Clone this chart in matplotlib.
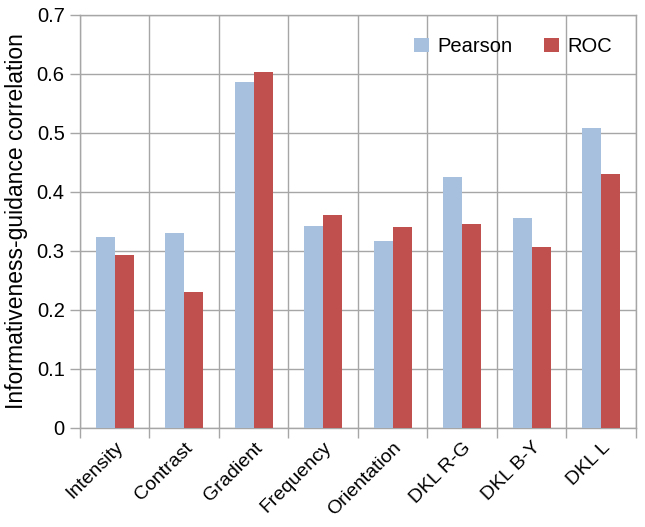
import numpy as np
import matplotlib.pyplot as plt

categories = ['Intensity', 'Contrast', 'Gradient', 'Frequency', 'Orientation',
              'DKL R-G', 'DKL B-Y', 'DKL L']
pearson = [0.324, 0.331, 0.586, 0.342, 0.317, 0.425, 0.356, 0.508]
roc = [0.293, 0.230, 0.603, 0.361, 0.340, 0.346, 0.307, 0.430]
yticks = [0, 0.1, 0.2, 0.3, 0.4, 0.5, 0.6, 0.7]
ytick_labels = ['0', '0.1', '0.2', '0.3', '0.4', '0.5', '0.6', '0.7']

plt.rcParams['font.family'] = ['Liberation Sans', 'DejaVu Sans']
grid_col = '#a6a6a6'

fig = plt.figure(figsize=(6.45, 5.27), dpi=100)
ax = fig.add_axes([0.124, 0.188, 0.862, 0.784])

x = np.arange(len(categories))
w = 0.275
ax.bar(x - w / 2, pearson, w, color='#a7c0de', label='Pearson', zorder=3)
ax.bar(x + w / 2, roc, w, color='#c0504d', label='ROC', zorder=3)

ax.set_xlim(-0.5, len(categories) - 0.5)
ax.set_ylim(0, 0.7)
ax.set_yticks(yticks)
ax.set_yticklabels(ytick_labels, fontsize=14.5)
ax.set_xticks(x)
ax.set_xticklabels(categories, rotation=45, ha='right', rotation_mode='anchor', fontsize=14)
ax.set_xticks(np.arange(-0.5, len(categories)), minor=True)

ax.grid(axis='y', color=grid_col, linewidth=1, zorder=0)
ax.grid(axis='x', which='minor', color=grid_col, linewidth=1, zorder=0)
ax.tick_params(axis='x', which='major', length=0, pad=8)
ax.tick_params(axis='x', which='minor', length=7, color=grid_col, width=1)
ax.tick_params(axis='y', length=7, color=grid_col, width=1, pad=4)
for s in ax.spines.values():
    s.set_color(grid_col)
    s.set_linewidth(1)

ax.set_ylabel('Informativeness-guidance correlation', fontsize=16.5, labelpad=6)

ax.legend(loc='upper right', bbox_to_anchor=(0.99, 0.99), ncol=2, frameon=False,
          fontsize=14.5, handlelength=0.75, handleheight=0.75, columnspacing=1.6,
          handletextpad=0.4)

fig.savefig('out.png', dpi=100)
